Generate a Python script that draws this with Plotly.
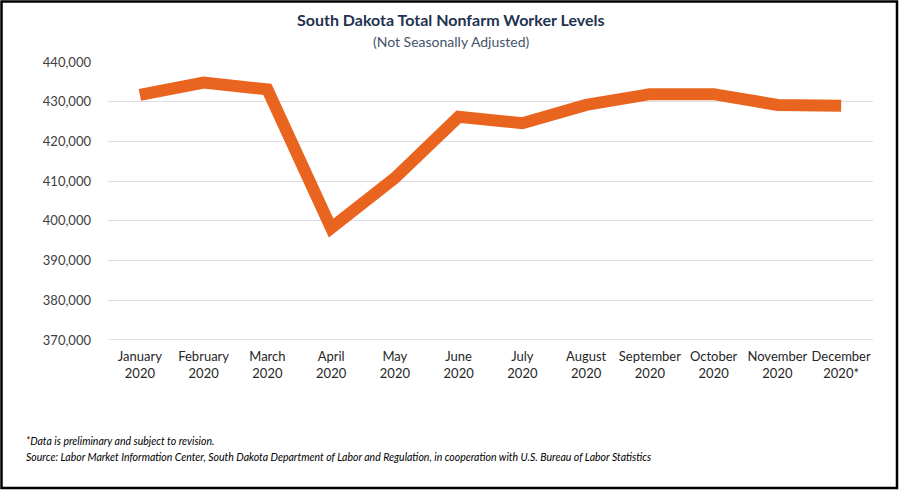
import plotly.graph_objects as go

months = ["January<br>2020", "February<br>2020", "March<br>2020", "April<br>2020", "May<br>2020",
          "June<br>2020", "July<br>2020", "August<br>2020", "September<br>2020", "October<br>2020",
          "November<br>2020", "December<br>2020*"]
workers = [431700, 434800, 433100, 398200, 410800, 426200, 424600, 429200, 431900, 431900, 429200, 429000]
y_ticks = [370000, 380000, 390000, 400000, 410000, 420000, 430000, 440000]

W, H = 900, 490
ml, mr, mt, mb = 108, 27, 62, 150
pw, ph = W - ml - mr, H - mt - mb

font = "Lato, 'Open Sans', sans-serif"

fig = go.Figure(go.Scatter(
    x=months, y=workers, mode="lines",
    line=dict(color="#E8641F", width=12),
    hoverinfo="x+y",
))

def px(x):
    return (x - ml) / pw

def py(y):
    return (H - mb - y) / ph

fig.update_layout(
    width=W, height=H,
    margin=dict(l=ml, r=mr, t=mt, b=mb),
    paper_bgcolor="white", plot_bgcolor="white",
    showlegend=False,
    font=dict(family=font, color="#404040", size=13),
    xaxis=dict(type="category", range=[-0.5, 11.5], showgrid=False, showline=False,
               tickfont=dict(size=13, color="#262626"), ticks="", ticklabelstandoff=7),
    yaxis=dict(range=[370000, 440000], tickvals=y_ticks, tickformat=",.0f",
               showgrid=True, gridcolor="#DEDCE6", gridwidth=1.3, zeroline=False,
               showline=False, tickfont=dict(size=13, color="#404040"), ticks="",
               ticklabelstandoff=16),
    annotations=[
        dict(text="<b>South Dakota Total Nonfarm Worker Levels</b>", xref="paper", yref="paper",
             x=px(451), y=py(19), xanchor="center", yanchor="middle", showarrow=False,
             font=dict(size=16, color="#1F3350", family=font)),
        dict(text="(Not Seasonally Adjusted)", xref="paper", yref="paper",
             x=px(451), y=py(41), xanchor="center", yanchor="middle", showarrow=False,
             font=dict(size=14, color="#44546A", family=font)),
        dict(text="<i>*Data is preliminary and subject to revision.</i>", xref="paper", yref="paper",
             x=px(24), y=py(441), xanchor="left", yanchor="middle", showarrow=False,
             font=dict(size=10.5, color="#000000", family=font)),
        dict(text="<i>Source: Labor Market Information Center, South Dakota Department of Labor and Regulation, in cooperation with U.S. Bureau of Labor Statistics</i>",
             xref="paper", yref="paper",
             x=px(24), y=py(457), xanchor="left", yanchor="middle", showarrow=False,
             font=dict(size=10.5, color="#000000", family=font)),
    ],
    shapes=[
        dict(type="rect", xref="paper", yref="paper",
             x0=px(1.5), x1=px(897), y0=py(488), y1=py(1.5),
             line=dict(color="black", width=2.5), fillcolor="rgba(0,0,0,0)", layer="above"),
        dict(type="line", xref="paper", yref="y", x0=0, x1=1, y0=370000, y1=370000,
             line=dict(color="#D9D9D9", width=1.3), layer="below"),
    ],
)

fig.write_html("out.html", config={"displayModeBar": False},
               post_script="document.body.style.margin='0';")
